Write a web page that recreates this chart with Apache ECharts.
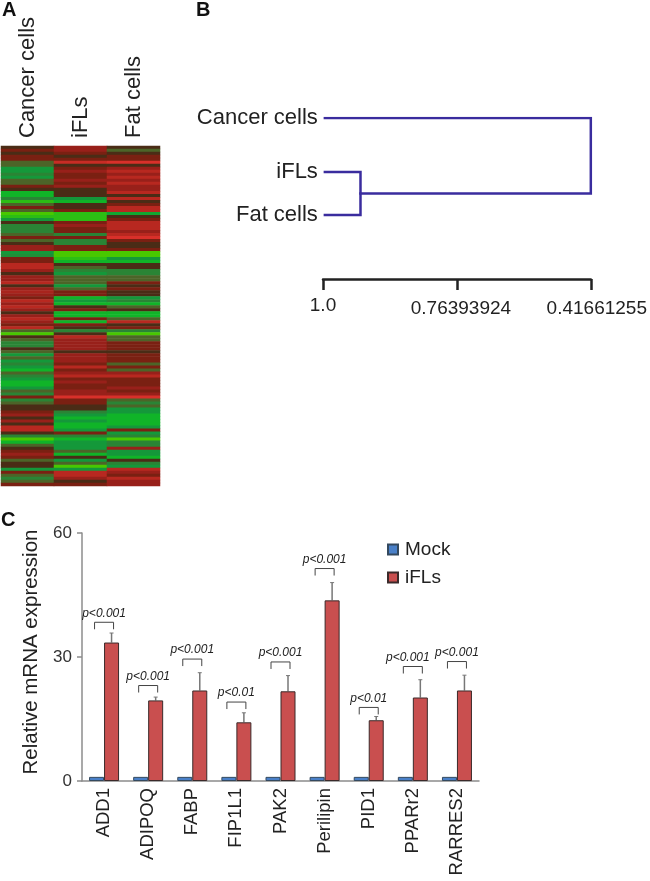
<!DOCTYPE html>
<html><head><meta charset="utf-8">
<style>html,body{margin:0;padding:0;background:#fff}#c{width:650px;height:881px}</style>
<script src="https://cdn.jsdelivr.net/npm/echarts@6/dist/echarts.min.js"></script>
</head><body><div id="c"></div>
<script>
const samples = ['Cancer cells','iFLs','Fat cells'];
const cancerRows = [0,1,0,1,1,-1,-1,-3,-3,-2,
 -3,-1,-1,1,0,-4,-4,-2,-4.5,-1,
 1,-1,-5,-4.5,-3,0,-2,-2,-2,-1,
 1,-1,0,2,2,-3,-2.5,1,1,3,
 3,2,0,2,2,3,0,2,2.5,2,
 1,3,2,3,2,0,2,3,2,1,
 3,-1,-5,0,-1,-2,-2,0,-1,-3,
 -1,-3,-2,-3,-4,-1,-2,-3,-4,-4,
 -3,-1,-2,1,-2,-1,0,0,1,2,
 0,2,0,3,3,0,-2,-5,-4,-1,
 0,1,2,1,-1,0,0,-3,1,-1,-2,-1,1];
const iflRows = [2,2,1,0,1,3.5,0,1,2,1,
 1,2,1,2,0,0,0,-3,-4,0,
 0,1,-4.5,-4.5,-4.5,1,2,1,1,-2,
 1,-2,-2,1,1,-5,-5,-4.5,-4,0,
 -1,-2,-3,-1,-1,-1,-3,-1,1,1,
 -4,-3,-4,0,1,-4,-4,1,-4,1,
 0,-2,0,3,2,2,2,2,0,2,
 2,2,1,3,1,2,3,1,2,1,
 1,2,2,4,1,1,0,0,-2,-3,
 -4,-3,-4,-4,-3,1,-2,-4,-3,-3,
 -3,-1,-4,0,-3,-1,-5,-3,3,3,2,0,1];
const fatRows = [0,-1,0,1,1,4,0,2,3,2,
 3,2,3,2,2,3,0,3,0,1,
 3,3,-3.5,0,1,3,3,3,2,3,
 4,1,0,0,1,-5,-5,-3,-4,0,
 0,-2,-2,-1,-1,1,0,1,0,0,
 -3,-2,-4,-1,0,-4,-4,-1,3,0,
 1,-2,-5,-1,-1,1,1,1,0,1,
 1,1,-1,1,-1,2,3,1,1,1,
 2,1,2,4,-1,-2,-1,-3,-3,-4,
 -4,-4,-4,-3,1,-3,-2,-5,-2,-2,
 2,-3,-3,-4,0,-2,-3,3,2,1,3,2,2];

const leafNames = ['Cancer cells','iFLs','Fat cells'];
const leafRow = [0,54,97];
const leafStart = [0.007,0.007,0.007];
const joinRow = [75.5];
const joinX = [0.14];
const rootX = [1];
const scalePositions = [0,0.5,1];
const scaleLabels = ['1.0','0.76393924','0.41661255'];

const genes = ['ADD1','ADIPOQ','FABP','FIP1L1','PAK2','Perilipin','PID1','PPARr2','RARRES2'];
const mock = [1,1,1,1,1,1,1,1,1];
const ifls = [33.5,19.5,21.9,14.2,21.7,43.7,14.7,20.2,21.9];
const iflsErrTop = [35.8,20.3,26.2,16.5,25.5,48,15.6,24.5,25.6];
const bracketTop = [38.4,23.1,29.5,19.1,28.8,51.4,17.8,27.7,28.9];
const pLabels = ['p<0.001','p<0.001','p<0.001','p<0.01','p<0.001','p<0.001','p<0.01','p<0.001','p<0.001'];
const yTicks = {min:0,max:60,interval:30};

const FONT = '"Liberation Sans", Arial, sans-serif';
const INK = '#222';
const LINK = '#3a2c9e';

const rowIds = cancerRows.map((_, i) => String(i + 1));
const heat = [];
[cancerRows, iflRows, fatRows].forEach((col, x) => col.forEach((v, y) => heat.push([x, y, v])));

const link = (pts, w) => ({
  type:'line', xAxisIndex:1, yAxisIndex:1, data:pts, symbol:'none', silent:true,
  lineStyle:{color:LINK, width:w, join:'miter', cap:'square'}
});

const chart = echarts.init(document.getElementById('c'), null, {renderer:'canvas'});
chart.setOption({
  animation:false,
  backgroundColor:'#fff',
  textStyle:{fontFamily:FONT},
  title:[
    {text:'A', left:2, top:0},
    {text:'B', left:196, top:0},
    {text:'C', left:1, top:510}
  ].map(t => Object.assign(t, {padding:0, textStyle:{fontFamily:FONT,fontSize:20,fontWeight:'bold',color:'#111'}})),
  grid:[
    {left:1, top:146, width:159, height:340},
    {left:323, top:118, width:269, height:161},
    {left:82, top:533, width:397, height:248}
  ],
  xAxis:[
    {gridIndex:0, type:'category', data:samples, position:'top',
     axisLine:{show:false}, axisTick:{show:false}, splitLine:{show:false},
     axisLabel:{rotate:-90, fontSize:22, color:INK, margin:8, fontFamily:FONT, interval:0, padding:[0,0,3,0]}},
    {gridIndex:1, type:'value', min:0, max:1, interval:0.5, position:'bottom',
     splitLine:{show:false},
     axisLine:{show:true, onZero:false, lineStyle:{color:'#222', width:2.5}},
     axisTick:{show:true, length:11, lineStyle:{color:'#222', width:2.5}},
     axisLabel:{margin:17, fontSize:19, color:INK, fontFamily:FONT, showMinLabel:true, showMaxLabel:true, hideOverlap:false,
       formatter:(v)=>{ const i=scalePositions.indexOf(v); return '{s'+i+'|'+scaleLabels[i]+'}'; },
       rich:{s0:{fontSize:19,color:INK,fontFamily:FONT},
             s1:{fontSize:19,color:INK,fontFamily:FONT,padding:[3,0,0,8]},
             s2:{fontSize:19,color:INK,fontFamily:FONT,padding:[3,0,0,12]}}}},
    {gridIndex:2, type:'category', data:genes,
     axisLine:{lineStyle:{color:'#8c8c8c', width:1.5}}, axisTick:{show:false},
     axisLabel:{rotate:90, fontSize:18.5, color:INK, margin:7, interval:0, fontFamily:FONT, padding:[3,0,0,0]}}
  ],
  yAxis:[
    {gridIndex:0, type:'category', data:rowIds, inverse:true, show:false},
    {gridIndex:1, type:'value', min:0, max:161, inverse:true, show:false},
    {gridIndex:2, type:'value', min:yTicks.min, max:yTicks.max, interval:yTicks.interval,
     name:'Relative mRNA expression', nameLocation:'middle', nameGap:34, nameRotate:90,
     nameTextStyle:{fontSize:20.5, color:INK, fontFamily:FONT, padding:[0,0,0,10]},
     splitLine:{show:false},
     axisLine:{show:true, lineStyle:{color:'#8c8c8c', width:1.5}},
     axisTick:{show:true, length:5, lineStyle:{color:'#8c8c8c', width:1.5}},
     axisLabel:{fontSize:17, color:'#333', margin:10, fontFamily:FONT}}
  ],
  visualMap:{show:false, seriesIndex:0, min:-5, max:4, dimension:2,
    inRange:{color:['#48c800','#10b428','#14983a','#2a8435','#4c6428','#4a2c16','#7a2012','#98201a','#b82820','#d8302a']}},
  legend:{data:['Mock','iFLs'], orient:'vertical', left:382, top:535, itemWidth:10, itemHeight:10, itemGap:9, icon:'rect',
    textStyle:{fontSize:19, color:INK, fontFamily:FONT, padding:[0,0,0,2]}},
  series:[
    {type:'heatmap', xAxisIndex:0, yAxisIndex:0, data:heat, silent:true, progressive:0,
     itemStyle:{borderWidth:0}},
    link([[leafStart[0],leafRow[0]],[rootX[0],leafRow[0]],[rootX[0],joinRow[0]],[joinX[0],joinRow[0]]],2.5),
    link([[leafStart[1],leafRow[1]],[joinX[0],leafRow[1]],[joinX[0],leafRow[2]],[leafStart[2],leafRow[2]]],2.5),
    {type:'scatter', xAxisIndex:1, yAxisIndex:1, symbolSize:0, silent:true,
     itemStyle:{color:INK, opacity:1},
     data:leafNames.map((n,i)=>({name:n, value:[leafStart[i],leafRow[i]]})),
     label:{show:true, position:'left', distance:7, formatter:'{b}', fontSize:22, color:INK, fontFamily:FONT}},
    {name:'Mock', type:'bar', xAxisIndex:2, yAxisIndex:2, data:mock, barWidth:15, barGap:0, silent:true,
     itemStyle:{color:'#4a80c8', borderColor:'#34495e', borderWidth:1}},
    {name:'iFLs', type:'bar', xAxisIndex:2, yAxisIndex:2, data:ifls, barWidth:15, barGap:0, silent:true,
     itemStyle:{color:'#c94f4f', borderColor:'#3a2a2a', borderWidth:1}},
    {type:'custom', xAxisIndex:2, yAxisIndex:2, silent:true, z:1,
     data:genes.map((g,i)=>[i, ifls[i], iflsErrTop[i]]),
     encode:{x:0,y:[1,2]},
     renderItem:(p,api)=>{
       const a=api.coord([api.value(0),api.value(1)]), b=api.coord([api.value(0),api.value(2)]);
       const x=a[0]+7.5;
       const st={stroke:'#777',lineWidth:1.5};
       return {type:'group',children:[
         {type:'line',shape:{x1:x,y1:a[1],x2:x,y2:b[1]},style:st},
         {type:'line',shape:{x1:x-2,y1:b[1],x2:x+2,y2:b[1]},style:{stroke:'#777',lineWidth:1}}
       ]};
     }},
    {type:'custom', xAxisIndex:2, yAxisIndex:2, silent:true, z:3,
     data:genes.map((g,i)=>[i, bracketTop[i]]),
     encode:{x:0,y:1},
     renderItem:(p,api)=>{
       const c=api.coord([api.value(0),api.value(1)]);
       const x=c[0], y=c[1];
       const nudge = p.dataIndex===7 ? -5 : 0;
       return {type:'group',children:[
         {type:'polyline',shape:{points:[[x-9.5,y+7],[x-9.5,y],[x+9.5,y],[x+9.5,y+7]]},
          style:{stroke:'#444',lineWidth:1,fill:null}},
         {type:'text',x:x+nudge,y:y-9,style:{text:pLabels[p.dataIndex],font:'italic 12px '+FONT,fill:'#222',
           textAlign:'center',textVerticalAlign:'middle'}}
       ]};
     }}
  ]
});
</script></body></html>
